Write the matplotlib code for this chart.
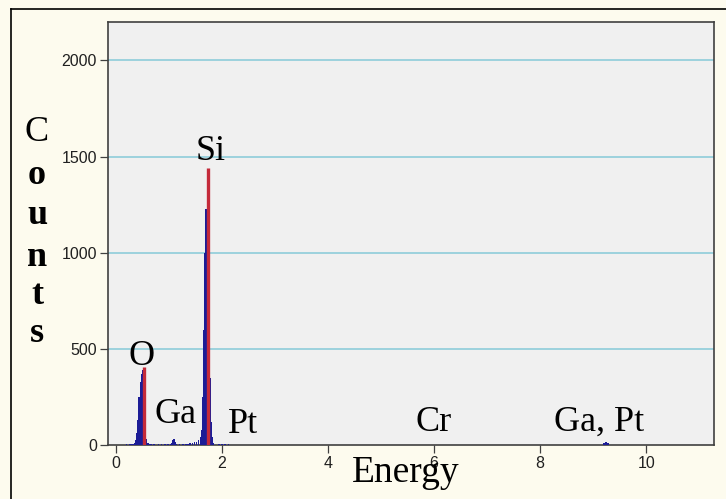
import numpy as np
import matplotlib.pyplot as plt
from matplotlib.lines import Line2D

# EDS spectrum channels (keV) and counts
o_energy = [0.34, 0.36, 0.38, 0.40, 0.42, 0.44, 0.46, 0.48, 0.50, 0.52, 0.54, 0.56, 0.58, 0.60, 0.62]
o_counts = [4, 10, 25, 60, 130, 250, 330, 370, 390, 360, 200, 80, 30, 10, 4]

si_energy = [1.40, 1.44, 1.48, 1.52, 1.56, 1.60, 1.62, 1.64, 1.66, 1.68, 1.70,
             1.72, 1.74, 1.76, 1.78, 1.80, 1.82, 1.84]
si_counts = [8, 10, 14, 18, 25, 40, 80, 250, 600, 1000, 1230,
             1230, 900, 800, 350, 120, 40, 10]

ga_energy = [1.04, 1.06, 1.08, 1.10, 1.12, 1.14]
ga_counts = [5, 12, 25, 30, 15, 5]

bg_energy = [0.20, 0.26, 0.30, 0.66, 0.72, 0.80, 0.86, 0.92, 0.98, 1.20, 1.26,
             1.32, 1.36, 1.94, 2.00, 2.06, 2.12, 9.20, 9.24, 9.28]
bg_counts = [4, 5, 4, 6, 5, 4, 6, 5, 4, 6, 5, 6, 7, 6, 5, 4, 4, 8, 14, 8]

# red overlay spikes
red_energy = [0.53, 1.73]
red_counts = [405, 1440]

# peak labels: text, energy, counts (baseline)
labels = ['O', 'Si', 'Ga', 'Pt', 'Cr', 'Ga, Pt']
label_x = [0.49, 1.79, 1.12, 2.39, 5.99, 9.11]
label_y = [415, 1484, 115, 62, 73, 73]

y_ticks = [0, 500, 1000, 1500, 2000]
x_ticks = [0, 2, 4, 6, 8, 10]

blue = '#1c1c96'
red = '#c42a3a'
serif = 'Liberation Serif'

fig = plt.figure(figsize=(7.26, 4.99), dpi=100, facecolor='#fdfbee')
ax = fig.add_axes([108 / 726, 1 - 445 / 499, 606 / 726, 423 / 499])
ax.set_facecolor('#f0f0f0')

energy = o_energy + si_energy + ga_energy + bg_energy
counts = o_counts + si_counts + ga_counts + bg_counts
ax.bar(energy, counts, width=0.03, color=blue, edgecolor='none', zorder=3)
ax.vlines(red_energy, 0, red_counts, color=red, lw=2.4, zorder=4)

ax.set_xlim(-0.15, 11.28)
ax.set_ylim(0, 2200)
ax.set_xticks(x_ticks)
ax.set_yticks(y_ticks)
for t in y_ticks[1:]:
    ax.axhline(t, color='#86cad8', lw=1.1, zorder=1)

ax.tick_params(direction='out', length=6, width=0.9, color='#404040',
               labelsize=11.5, labelcolor='#202020', pad=2)
for lab in ax.get_xticklabels() + ax.get_yticklabels():
    lab.set_family('Liberation Sans')
for s in ax.spines.values():
    s.set_color('#404040')
    s.set_linewidth(1.2)

for txt, x, y in zip(labels, label_x, label_y):
    ax.text(x, y, txt, family=serif, fontsize=26, ha='center', va='baseline', zorder=5)

fig.text(406 / 726, 1 - 482 / 499, 'Energy', family=serif, fontsize=27,
         ha='center', va='baseline')

for ch, yc in zip('Counts', [133, 175, 216, 257, 296, 334]):
    fig.text(37 / 726, 1 - yc / 499, ch, family=serif, fontsize=26,
             ha='center', va='center', fontweight='bold' if ch != 'C' else 'normal')

# outer frame (left and top)
fig.add_artist(Line2D([11 / 726, 11 / 726], [0, 1 - 9 / 499], color='black', lw=1.2))
fig.add_artist(Line2D([11 / 726, 1], [1 - 9 / 499, 1 - 9 / 499], color='black', lw=1.2))

fig.savefig('out.png', dpi=100, facecolor=fig.get_facecolor())
